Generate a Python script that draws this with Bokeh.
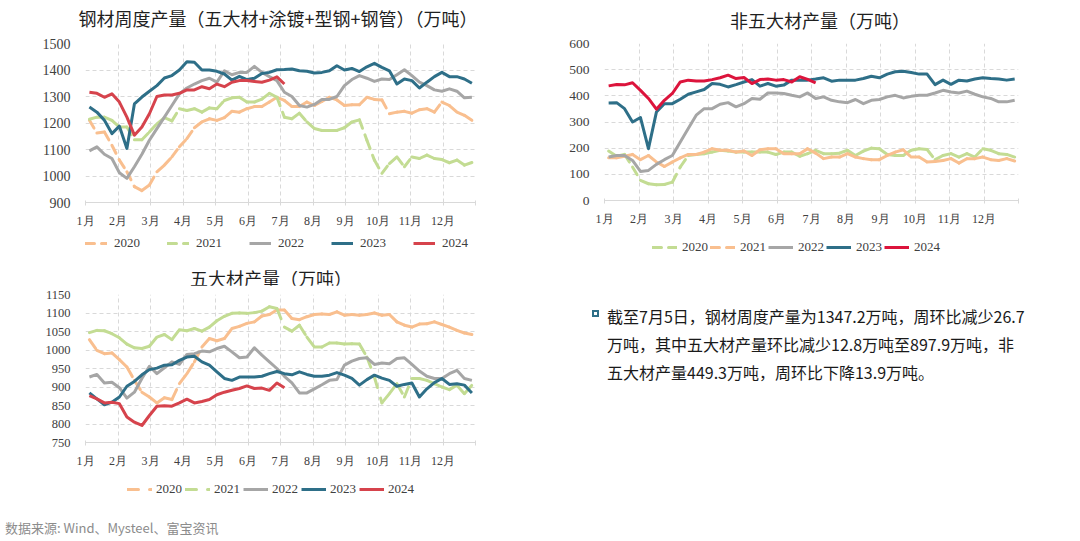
from bokeh.plotting import figure
from bokeh.models import Range1d, FixedTicker, Legend, LegendItem, Div
from bokeh.layouts import column, row
from bokeh.embed import file_html
from bokeh.resources import INLINE

YEARS = ["2020", "2021", "2022", "2023", "2024"]
MONTH_LABELS = [f"{m}月" for m in range(1, 13)]

# ---- 钢材周度产量 (万吨) ----
steel_2020 = [1210, 1162, 1166, 1116, 1060, 1016, 960, 945, 966, 1016,
              1041, 1072, 1110, 1141, 1182, 1204, 1216, 1210, 1220, 1244,
              1241, 1254, 1262, 1262, 1279, 1297, 1285, 1262, 1262, 1279,
              1266, 1281, 1297, 1287, 1266, 1269, 1269, 1297, 1289, 1287,
              1235, 1241, 1244, 1237, 1250, 1254, 1241, 1279, 1266, 1241,
              1229, 1210]
steel_2021 = [1214, 1222, 1222, 1210, 1185, 1185, 1137, 1137, 1166, 1197,
              1220, 1208, 1254, 1247, 1254, 1241, 1257, 1254, 1285, 1295,
              1297, 1279, 1279, 1290, 1312, 1297, 1222, 1216, 1237, 1204,
              1179, 1172, 1172, 1172, 1182, 1204, 1212, 1135, 1060, 1010,
              1047, 1072, 1035, 1072, 1066, 1079, 1066, 1062, 1050, 1060,
              1041, 1051]
steel_2022 = [1095, 1110, 1082, 1066, 1012, 991, 1035, 1082, 1135, 1179,
              1222, 1266, 1310, 1332, 1347, 1360, 1369, 1354, 1397, 1382,
              1391, 1391, 1414, 1391, 1375, 1360, 1316, 1300, 1266, 1260,
              1270, 1289, 1289, 1300, 1341, 1364, 1379, 1369, 1357, 1366,
              1364, 1382, 1401, 1379, 1354, 1341, 1325, 1320, 1329, 1320,
              1295, 1297]
steel_2023 = [1260, 1241, 1210, 1160, 1188, 1104, 1272, 1298, 1320, 1341,
              1370, 1379, 1400, 1431, 1429, 1400, 1400, 1395, 1385, 1362,
              1376, 1364, 1369, 1387, 1391, 1401, 1402, 1404, 1397, 1395,
              1389, 1391, 1397, 1416, 1400, 1406, 1394, 1412, 1425, 1410,
              1397, 1347, 1366, 1360, 1332, 1354, 1375, 1391, 1375, 1375,
              1366, 1350]
steel_2024 = [1316, 1312, 1297, 1310, 1279, 1222, 1154, 1185, 1235, 1300,
              1306, 1306, 1312, 1325, 1325, 1337, 1329, 1347, 1337, 1354,
              1360, 1360, 1357, 1354, 1362, 1374, 1347.2]

# ---- 非五大材产量 (万吨) ----
non5_2020 = [189, 169, 176, 128, 77, 64, 60, 61, 70, 128,
             172, 176, 179, 185, 192, 189, 185, 185, 185, 185,
             185, 176, 185, 185, 169, 179, 192, 179, 179, 181,
             192, 172, 189, 200, 198, 176, 172, 172, 192, 198,
             195, 156, 172, 179, 166, 179, 166, 198, 192, 179,
             176, 166]
non5_2021 = [163, 163, 169, 176, 156, 172, 147, 130, 147, 163,
             176, 176, 185, 198, 192, 192, 185, 189, 172, 194,
             198, 198, 179, 179, 179, 198, 181, 160, 166, 166,
             179, 166, 160, 156, 156, 172, 185, 194, 166, 166,
             147, 149, 153, 160, 143, 160, 160, 166, 156, 153,
             160, 151]
non5_2022 = [166, 172, 172, 153, 111, 115, 138, 156, 172, 224,
             275, 326, 351, 351, 368, 374, 358, 370, 390, 387,
             411, 411, 409, 402, 396, 411, 390, 396, 383, 377,
             374, 386, 370, 383, 386, 396, 402, 392, 398, 402,
             402, 411, 421, 415, 411, 418, 406, 396, 390, 377,
             377, 383]
non5_2023 = [373, 374, 351, 300, 317, 198, 338, 370, 370, 387,
             406, 415, 424, 447, 444, 434, 443, 453, 462, 437,
             447, 437, 441, 460, 460, 460, 464, 469, 456, 460,
             460, 460, 466, 475, 469, 483, 492, 494, 489, 483,
             483, 443, 460, 444, 460, 457, 464, 469, 466, 464,
             460, 464]
non5_2024 = [438, 443, 442, 450, 421, 390, 349, 383, 409, 453,
             460, 457, 457, 462, 469, 479, 466, 470, 447, 462,
             464, 460, 462, 453, 473, 463, 449.3]

# ---- 五大材产量 (万吨) ----
five_2020 = [1028, 999, 990, 992, 974, 954, 918, 886, 873, 857,
             871, 866, 909, 936, 968, 1008, 1031, 1025, 1031, 1058,
             1064, 1072, 1076, 1092, 1096, 1108, 1108, 1085, 1082, 1090,
             1096, 1097, 1096, 1103, 1094, 1096, 1094, 1096, 1100, 1094,
             1096, 1076, 1067, 1062, 1070, 1071, 1076, 1069, 1062, 1053,
             1046, 1042]
five_2021 = [1047, 1053, 1052, 1044, 1033, 1016, 1006, 1004, 1010, 1035,
             1042, 1028, 1055, 1052, 1058, 1051, 1062, 1079, 1091, 1099,
             1100, 1099, 1101, 1105, 1117, 1112, 1062, 1051, 1067, 1035,
             1008, 1008, 1019, 1019, 1016, 1017, 1016, 981, 927, 857,
             882, 909, 873, 923, 923, 918, 909, 900, 893, 905,
             882, 905]
five_2022 = [927, 934, 911, 913, 898, 870, 886, 923, 956, 936,
             952, 968, 961, 988, 990, 997, 995, 1004, 1010, 995,
             979, 981, 1006, 986, 968, 950, 929, 911, 884, 884,
             895, 906, 918, 920, 959, 970, 977, 979, 961, 965,
             963, 977, 979, 961, 943, 929, 923, 923, 936, 945,
             923, 918]
five_2023 = [884, 868, 852, 859, 873, 902, 915, 933, 947, 951,
             959, 960, 972, 981, 983, 968, 959, 941, 923, 918,
             927, 927, 927, 929, 936, 942, 936, 933, 941, 934,
             929, 929, 932, 939, 932, 923, 905, 920, 932, 924,
             918, 902, 907, 911, 873, 895, 912, 923, 907, 909,
             905, 884]
five_2024 = [877, 868, 857, 859, 855, 819, 805, 796, 823, 848,
             849, 848, 857, 867, 857, 861, 866, 879, 886, 891,
             896, 903, 896, 897, 891, 910.7, 897.9]

C_PEACH = "#F9BF8F"
C_GREEN = "#C3DC93"
C_GRAY = "#A6A6A6"
C_TEAL = "#2E6F88"
C_RED = "#D6434C"
C_CRIMSON = "#DC143C"
GRID = "#D9D9D9"
TICK_TXT = "#404040"


def week_x(n):
    return [0.12 + i * 12 / 52 for i in range(n)]


def title_div(text, width, height, pad_top, line_h, shift, size):
    html = ('<div style="width:%dpx;text-align:center;position:relative;left:%dpx;'
            'padding-top:%dpx;line-height:%dpx;font-family:\'Noto Sans CJK SC\';'
            'font-size:%s;color:#1f1f1f;white-space:nowrap;">%s</div>'
            % (width, shift, pad_top, line_h, size, text))
    return Div(text=html, width=width, height=height, margin=0)


def build(width, height, borders, yr, ystep, yfont, series):
    left, right, top, bottom = borders
    p = figure(width=width, height=height, x_range=Range1d(0, 12),
               y_range=Range1d(yr[0], yr[1]), output_backend="svg",
               toolbar_location=None, min_border_left=left,
               min_border_right=right, min_border_top=top,
               min_border_bottom=bottom)
    p.outline_line_color = None
    p.background_fill_color = "white"
    p.border_fill_color = "white"
    xt = FixedTicker(ticks=list(range(13)))
    yt = FixedTicker(ticks=list(range(yr[0], yr[1] + 1, ystep)))
    p.xaxis.ticker = xt
    p.yaxis.ticker = yt
    p.xgrid.ticker = xt
    p.ygrid.ticker = yt
    for g in (p.xgrid, p.ygrid):
        g.grid_line_color = GRID
        g.grid_line_dash = "4 3"
        g.grid_line_width = 1
    ov = {i: MONTH_LABELS[i] for i in range(12)}
    ov[12] = ""
    p.xaxis.major_label_overrides = ov
    p.xaxis.axis_line_color = GRID
    p.xaxis.major_tick_line_color = GRID
    p.xaxis.major_tick_in = 2
    p.xaxis.major_tick_out = 3
    p.xaxis.minor_tick_line_color = None
    p.xaxis.major_label_standoff = 8
    p.xaxis.major_label_text_font = "Liberation Serif"
    p.xaxis.major_label_text_font_size = "12px"
    p.xaxis.major_label_text_color = TICK_TXT
    p.yaxis.axis_line_color = None
    p.yaxis.major_tick_line_color = None
    p.yaxis.minor_tick_line_color = None
    p.yaxis.major_label_standoff = 9
    p.yaxis.major_label_text_font = "Liberation Serif"
    p.yaxis.major_label_text_font_size = yfont
    p.yaxis.major_label_text_color = TICK_TXT

    for label, ys, color, dash in series:
        xs = week_x(len(ys))
        if dash:
            sx = [[xs[i], xs[i + 1]] for i in range(len(ys) - 1)]
            sy = [[ys[i], ys[i + 1]] for i in range(len(ys) - 1)]
            p.multi_line(sx, sy, line_color=color, line_width=3,
                         line_dash=dash, line_cap="round")
        else:
            p.line(xs, ys, line_color=color, line_width=3, line_join="round")
    return p


def legend_fig(width, height, series, loc, gw, ls, sp):
    # strip holding the legend; the proxy lines use the series data but lie
    # outside this strip's y range, so only the legend keys are visible
    lf = figure(width=width, height=height, x_range=Range1d(0, 12),
                y_range=Range1d(-2, -1), output_backend="svg",
                toolbar_location=None, min_border=0,
                x_axis_location=None, y_axis_location=None)
    lf.grid.visible = False
    lf.outline_line_color = None
    lf.background_fill_color = "white"
    lf.border_fill_color = "white"
    items = []
    for label, ys, color, dash in series:
        xs = week_x(len(ys))
        if dash:
            r = lf.line(xs, ys, line_color=color, line_width=3,
                        line_dash=dash, line_cap="round")
        else:
            r = lf.line(xs, ys, line_color=color, line_width=3)
        items.append(LegendItem(label=label, renderers=[r]))
    legend = Legend(items=items, orientation="horizontal", location=loc,
                    glyph_width=gw, glyph_height=20, label_height=20,
                    label_standoff=ls, spacing=sp, padding=0, margin=0,
                    border_line_color=None, background_fill_alpha=0,
                    label_text_font="Liberation Serif",
                    label_text_font_size="13px", label_text_color=TICK_TXT)
    lf.add_layout(legend)
    return lf


s1 = [(YEARS[0], steel_2020, C_PEACH, "9 7"),
      (YEARS[1], steel_2021, C_GREEN, "9 7"),
      (YEARS[2], steel_2022, C_GRAY, None),
      (YEARS[3], steel_2023, C_TEAL, None),
      (YEARS[4], steel_2024, C_RED, None)]
s2 = [(YEARS[0], non5_2020, C_GREEN, "9 7"),
      (YEARS[1], non5_2021, C_PEACH, "9 7"),
      (YEARS[2], non5_2022, C_GRAY, None),
      (YEARS[3], non5_2023, C_TEAL, None),
      (YEARS[4], non5_2024, C_CRIMSON, None)]
s3 = [(YEARS[0], five_2020, C_PEACH, "11 11"),
      (YEARS[1], five_2021, C_GREEN, "11 11"),
      (YEARS[2], five_2022, C_GRAY, None),
      (YEARS[3], five_2023, C_TEAL, None),
      (YEARS[4], five_2024, C_RED, None)]

t1 = title_div("钢材周度产量（五大材+涂镀+型钢+钢管）（万吨）", 530, 33, 7, 22, 13, "18px")
p1 = build(530, 197, (85, 55, 10, 28), (900, 1500), 100, "14px", s1)
l1 = legend_fig(530, 28, s1, (0, 5), 22, 7, 27)

t3 = title_div("五大材产量（万吨）", 530, 27, 13, 14, 6, "18px")
p3 = build(530, 185, (80, 43, 9, 28), (750, 1150), 50, "12.5px", s3)
l3 = legend_fig(530, 34, s3, (42, 5), 25, 4, 3)

t2 = title_div("非五大材产量（万吨）", 548, 33, 9, 22, 16, "18px")
p2 = build(548, 195, (74, 60, 10, 28), (0, 600), 100, "13.5px", s2)
l2 = legend_fig(548, 36, s2, (48, 7), 25, 5, 2)

summary_lines = [
    "截至7月5日，钢材周度产量为1347.2万吨，周环比减少26.7",
    "万吨，其中五大材产量环比减少12.8万吨至897.9万吨，非",
    "五大材产量449.3万吨，周环比下降13.9万吨。",
]
summary_html = (
    '<div style="position:relative;font-family:\'Noto Sans CJK SC\';'
    'font-size:16px;line-height:28px;color:#1a1a1a;padding:38px 0 0 77px;'
    'white-space:nowrap;">'
    '<span style="position:absolute;left:62px;top:46px;width:7px;height:7px;'
    'border:2px solid #2E6F88;"></span>'
    + "<br>".join(summary_lines) + "</div>"
)
summary = Div(text=summary_html, width=548, height=200, margin=0)

source = Div(text='<div style="font-family:\'Noto Sans CJK SC\';font-size:13px;'
                  'line-height:14px;color:#8C8C8C;padding:17px 0 0 5px;'
                  'white-space:nowrap;">数据来源: Wind、Mysteel、富宝资讯</div>',
             width=400, height=31, margin=0)

layout = row(column(t1, p1, l1, t3, p3, l3, source),
             column(t2, p2, l2, summary))
open("out.html", "w").write(file_html(layout, INLINE))
